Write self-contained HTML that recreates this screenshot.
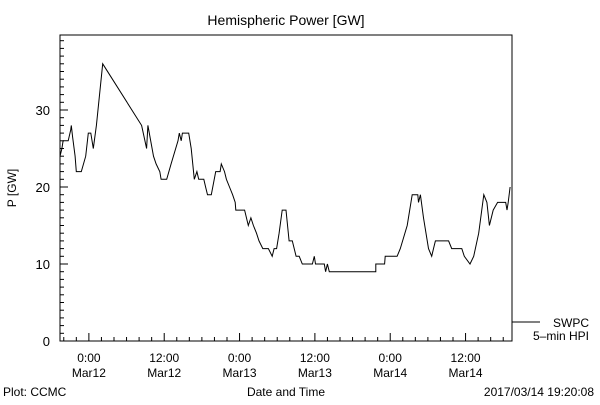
<!DOCTYPE html>
<html><head><meta charset="utf-8"><style>
body{margin:0;background:#fff;}
svg text{font-family:"Liberation Sans",sans-serif;fill:#000;}
</style></head><body>
<svg id="chart" width="600" height="400" xmlns="http://www.w3.org/2000/svg">
<rect width="600" height="400" fill="#fff"/>
<text x="286" y="25" font-size="14" text-anchor="middle">Hemispheric Power [GW]</text>
<rect x="60" y="35" width="452" height="306" fill="none" stroke="#000" stroke-width="1"/>
<g id="yaxis"></g>
<g id="xaxis"></g>
<path id="series" fill="none" stroke="#000" stroke-width="1"/>
<text transform="translate(16,188) rotate(-90)" font-size="12" text-anchor="middle">P [GW]</text>
<text x="286" y="396" font-size="12" text-anchor="middle">Date and Time</text>
<text x="3" y="396" font-size="12">Plot: CCMC</text>
<text x="594" y="396" font-size="12" text-anchor="end">2017/03/14 19:20:08</text>
<line x1="512" y1="322" x2="540" y2="322" stroke="#000"/>
<text x="589" y="327" font-size="12" text-anchor="end">SWPC</text>
<text x="589" y="340" font-size="12" text-anchor="end">5–min HPI</text>
</svg>
<script>
// hours relative to Mar12 00:00
const times=[-4.6,-4.3,-4.1,-3.3,-2.9,-2.8,-2.6,-2.2,-2.0,-1.2,-0.5,-0.1,0.3,0.7,1.2,2.2,8.4,9.2,9.4,10.3,10.7,11.3,11.5,12.4,13.1,14.2,14.4,14.7,14.9,15.9,16.3,16.8,17.2,17.5,18.3,18.6,18.9,19.5,20.2,20.9,21.1,21.6,21.9,22.4,22.9,23.3,23.4,24.8,25.4,25.8,26.2,26.7,27.1,27.7,28.6,29.2,29.5,29.9,30.3,30.8,31.4,31.9,32.4,33.0,33.5,34.0,35.6,35.9,36.1,37.5,37.7,38.0,38.3,45.7,45.7,47.1,47.2,49.1,49.6,50.7,51.5,52.4,52.5,52.8,53.3,54.1,54.6,54.9,55.2,55.6,57.3,57.8,59.4,59.8,60.7,61.3,62.1,62.9,63.4,63.8,64.4,65.1,66.4,66.6,66.8,67.1];
const values=[24,25,26,26,27.4,28,26.5,24,22,22,24,27,27,25,28,36,28,25,28,24,23,22,21,21,23,26,27,26,27,27,25,21,22,21,21,20,19,19,22,22,23,22,21,20,19,18,17,17,15,16,15,14,13,12,12,11,12,12,14,17,17,13,13,11,11,10,10,11,10,10,9,10,9,9,10,10,11,11,12,15,19,19,18,19,16,12,11,12,13,13,13,12,12,11,10,11,14,19,18,15,17,18,18,17,18,20];
const yTicks=[0,10,20,30];
const xTickHours=[0,12,24,36,48,60];
const xTickTimes=["0:00","12:00","0:00","12:00","0:00","12:00"];
const xTickDates=["Mar12","Mar12","Mar13","Mar13","Mar14","Mar14"];
const NS="http://www.w3.org/2000/svg";
const X=h=>60+(h+4.6)*6.278;
const Y=v=>341-v*7.7;
function mk(tag,attrs,parent){const e=document.createElementNS(NS,tag);for(const k in attrs)e.setAttribute(k,attrs[k]);parent.appendChild(e);return e;}
const ya=document.getElementById('yaxis'),xa=document.getElementById('xaxis');
for(let v=0;v<=39;v++){
  const l=mk('line',{x1:60,x2:60+(v%10===0?8:4),y1:Y(v),y2:Y(v),stroke:'#000'},ya);
  
  
}
yTicks.forEach(v=>{
  const t=mk('text',{x:50,y:Y(v)+5,'font-size':13,'text-anchor':'end'},ya);t.textContent=v;
  
  
});
for(let h=-4;h<=67;h+=2){
  const major=(h%12===0);
  const l=mk('line',{x1:X(h),x2:X(h),y1:341,y2:major?333:337,stroke:'#000'},xa);
  
  
}
xTickHours.forEach((h,i)=>{
  const t=mk('text',{x:X(h),y:362,'font-size':12,'text-anchor':'middle'},xa);t.textContent=xTickTimes[i];
  
  
  const d=mk('text',{x:X(h),y:377,'font-size':12,'text-anchor':'middle'},xa);d.textContent=xTickDates[i];
  
  
});
document.getElementById('series').setAttribute('d',times.map((t,i)=>(i?'L':'M')+X(t).toFixed(1)+' '+Y(values[i]).toFixed(1)).join(' '));
</script>
</body></html>
